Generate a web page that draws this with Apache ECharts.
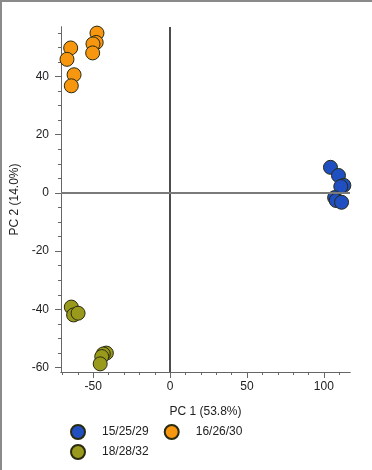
<!DOCTYPE html>
<html><head><meta charset="utf-8">
<script src="https://cdn.jsdelivr.net/npm/echarts@6/dist/echarts.min.js"></script>
<style>html,body{margin:0;padding:0;background:#fff}#c{width:372px;height:470px}</style>
</head><body><div id="c"></div>
<script>
const seriesNames = ['15/25/29', '16/26/30', '18/28/32'];
const colors = ['#1f4fc0', '#f7960f', '#999a1c'];
const blue = [[104.3,8.8],[109.5,6.0],[113,2.6],[111,2.2],[107,-1.6],[108,-2.6],[111.5,-3.2]];
const orange = [[-47.6,54.9],[-48.1,51.7],[-50.2,51.2],[-50.4,48.1],[-64.7,49.8],[-67.1,45.9],[-62.5,40.6],[-64.3,36.8]];
const olive = [[-64.3,-39.2],[-62.8,-41.9],[-59.9,-41.3],[-41.5,-55.0],[-43.5,-55.3],[-44.5,-56.2],[-45.5,-58.7]];
const xMajor = [-50, 0, 50, 100];
const xMinor = [-70,-60,-50,-40,-30,-20,-10,0,10,20,30,40,50,60,70,80,90,100,110];
const yMajor = [-60, -40, -20, 0, 20, 40];
const yMinor = [-60,-55,-50,-45,-40,-35,-30,-25,-20,-15,-10,-5,0,5,10,15,20,25,30,35,40,45,50,55];
const xRange = [-71, 117];
const yRange = [-61.5, 57];

const font = 'Liberation Sans, Arial, sans-serif';
const axisCol = '#666';
function xAx(major){
  return {type:'value', min:xRange[0], max:xRange[1], position:'bottom',
    axisLine:{show:true, onZero:false, lineStyle:{color:axisCol, width:1}},
    axisTick:{show:true, length: major?6:3, customValues: major?xMajor:xMinor, lineStyle:{color:axisCol}},
    axisLabel:{show:major, customValues:xMajor, color:'#222', fontFamily:font, fontSize:12, margin:9},
    splitLine:{show:false},
    name: major ? 'PC 1 (53.8%)' : '', nameLocation:'middle', nameGap:34,
    nameTextStyle:{color:'#222', fontFamily:font, fontSize:12}};
}
function yAx(major){
  return {type:'value', min:yRange[0], max:yRange[1], position:'left',
    axisLine:{show:true, onZero:false, lineStyle:{color:axisCol, width:1}},
    axisTick:{show:true, length: major?6:3, customValues: major?yMajor:yMinor, lineStyle:{color:axisCol}},
    axisLabel:{show:major, customValues:yMajor, color:'#222', fontFamily:font, fontSize:12, margin:12},
    splitLine:{show:false},
    name: major ? 'PC 2 (14.0%)' : '', nameLocation:'middle', nameGap:37,
    nameTextStyle:{color:'#222', fontFamily:font, fontSize:12}};
}
function sc(i, data){
  return {type:'scatter', name:seriesNames[i], data:data, symbol:'circle', symbolSize:14, z:3,
    itemStyle:{color:colors[i], borderColor:'#2a2a10', borderWidth:1, opacity:1}};
}
function leg(names, top){
  return {left:65, top:top, orient:'horizontal', icon:'circle', itemWidth:14, itemHeight:14, itemGap:15,
    data:names, textStyle:{color:'#222', fontFamily:font, fontSize:12, padding:[0,0,0,12]}};
}
const chart = echarts.init(document.getElementById('c'), null, {renderer:'canvas'});
chart.setOption({
  animation:false,
  backgroundColor:'#fff',
  grid:{left:61, right:22, top:27, bottom:98, containLabel:false},
  xAxis:[xAx(true), xAx(false)],
  yAxis:[yAx(true), yAx(false)],
  legend:[leg(seriesNames.slice(0,2), 419), leg(seriesNames.slice(2), 439)],
  graphic:[
    {type:'line', shape:{x1:1, y1:0, x2:1, y2:470}, style:{stroke:'#8a8a8a', lineWidth:2}, silent:true},
    {type:'line', shape:{x1:0, y1:1, x2:372, y2:1}, style:{stroke:'#8a8a8a', lineWidth:2}, silent:true}
  ],
  series:[
    {type:'scatter', data:[], z:1, silent:true,
      markLine:{silent:true, symbol:'none', label:{show:false}, animation:false,
        data:[
          {xAxis:0, lineStyle:{color:'#111', width:1.5, type:'solid'}},
          {yAxis:0, lineStyle:{color:'#7a7a7a', width:2, type:'solid'}}
        ]}},
    sc(0, blue), sc(1, orange), sc(2, olive)
  ]
});
</script></body></html>
